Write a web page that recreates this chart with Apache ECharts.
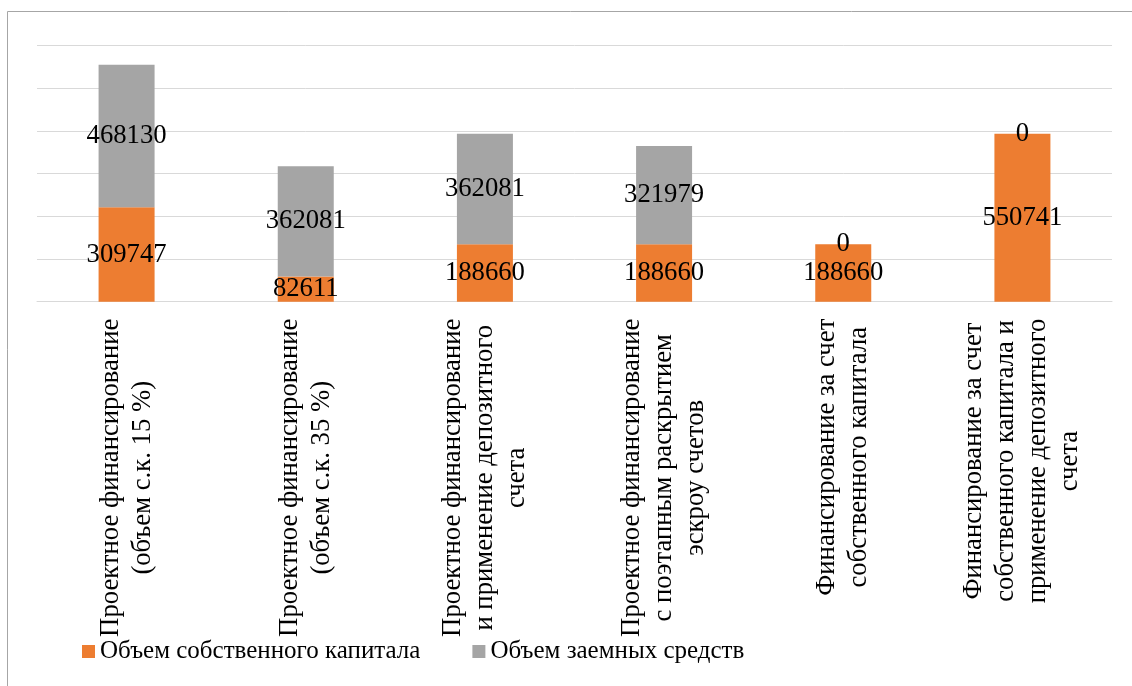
<!DOCTYPE html>
<html>
<head>
<meta charset="utf-8">
<script src="https://cdn.jsdelivr.net/npm/echarts@6/dist/echarts.min.js"></script>
<style>
  html, body { margin: 0; padding: 0; background: #fff; }
  #chart { width: 1132px; height: 686px; }
</style>
</head>
<body>
<div id="chart"></div>
<script>
// Financing schemes (x-axis categories)
const categories = [
  'Проектное финансирование\n(объем с.к. 15 %)',
  'Проектное финансирование\n(объем с.к. 35 %)',
  'Проектное финансирование\nи применение депозитного\nсчета',
  'Проектное финансирование\nс поэтапным раскрытием\nэскроу счетов',
  'Финансирование за счет\nсобственного капитала',
  'Финансирование за счет\nсобственного капитала и\nприменение депозитного\nсчета'
];

const seriesNames = ['Объем собственного капитала', 'Объем заемных средств'];

// Equity (bottom of each stack) and borrowed funds (top of each stack)
const equity = [309747, 82611, 188660, 188660, 188660, 550741];
const borrowed = [468130, 362081, 362081, 321979, 0, 0];

// Value axis range (axis itself is not labelled)
const yMax = 840000;
const yStep = 140000;

const FONT = 'Liberation Serif';
const ORANGE = '#ED7D31';
const GRAY = '#A5A5A5';

const chart = echarts.init(document.getElementById('chart'), null, { renderer: 'canvas' });

const labelStyle = {
  show: true,
  position: 'inside',
  color: '#000',
  fontFamily: FONT,
  fontSize: 26.7,
  textBorderWidth: 0
};

chart.setOption({
  backgroundColor: '#fff',
  animation: false,
  graphic: [{
    type: 'rect',
    shape: { x: 7.5, y: 11.5, width: 1140, height: 700 },
    style: { fill: 'none', stroke: '#a6a6a6', lineWidth: 1 },
    silent: true,
    z: -1
  }],
  grid: { left: 37, right: 20, top: 45.7, bottom: 384.3, containLabel: false },
  legend: {
    data: seriesNames,
    left: 82,
    top: 639,
    padding: 0,
    icon: 'rect',
    itemWidth: 13,
    itemHeight: 13,
    itemGap: 52,
    textStyle: { fontFamily: FONT, fontSize: 25, color: '#000' }
  },
  xAxis: {
    type: 'category',
    data: categories,
    axisLine: { show: true, lineStyle: { color: '#d9d9d9', width: 1 } },
    axisTick: { show: false },
    axisLabel: {
      interval: 0,
      rotate: 90,
      margin: 17,
      color: '#000',
      fontFamily: FONT,
      fontSize: 26.7,
      lineHeight: 32,
      formatter: v => v.split('\n').map(l => '{c|' + l + '}').join('\n'),
      rich: {
        c: { align: 'center', fontFamily: FONT, fontSize: 26.7, lineHeight: 32, color: '#000' }
      }
    }
  },
  yAxis: {
    type: 'value',
    min: 0,
    max: yMax,
    interval: yStep,
    axisLine: { show: false },
    axisTick: { show: false },
    axisLabel: { show: false },
    splitLine: { show: true, lineStyle: { color: '#d9d9d9', width: 1 } }
  },
  series: [
    {
      name: seriesNames[0],
      type: 'bar',
      stack: 'total',
      data: equity,
      barWidth: 56,
      itemStyle: { color: ORANGE },
      label: labelStyle
    },
    {
      name: seriesNames[1],
      type: 'bar',
      stack: 'total',
      data: borrowed,
      barWidth: 56,
      itemStyle: { color: GRAY },
      label: labelStyle
    }
  ]
});
</script>
</body>
</html>
